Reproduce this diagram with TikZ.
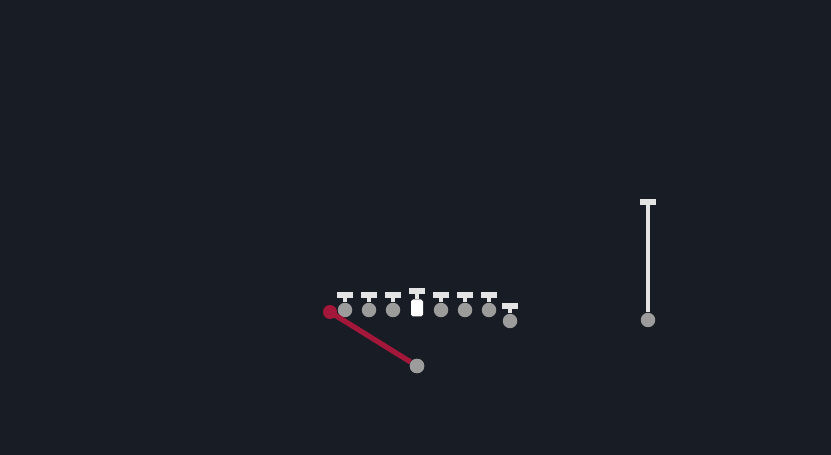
\documentclass[tikz,border=0pt]{standalone}
\definecolor{field}{HTML}{181C25}
\definecolor{mark}{HTML}{9C9C9C}
\definecolor{stemc}{HTML}{E4E4E4}
\definecolor{route}{HTML}{A3183A}
\tikzset{
  player/.style={circle,fill=mark,inner sep=0pt,minimum size=0.29cm},
  center/.style={rectangle,rounded corners=1pt,fill=white,inner sep=0pt,minimum width=0.24cm,minimum height=0.34cm},
  stem/.style={stemc,line width=2.8pt},
  tbar/.style={stemc,line width=3.2pt},
  routeline/.style={route,line width=3pt},
  routeend/.style={circle,fill=route,inner sep=0pt,minimum size=0.28cm}
}
\begin{document}
\begin{tikzpicture}[x=0.02cm,y=-0.02cm]
  \fill[field] (0,0) rectangle (831,455);

  % line of scrimmage
  \foreach \n/\x/\y in {la/345/310,lb/369/310,lc/393/310,ld/441/310,le/465/310,lf/489/310,lg/510/321}{
    \node[player] (\n) at (\x,\y) {};
    \coordinate (\n top) at (\x,\y-15);
    \draw[stem] (\n) -- (\n top);
    \draw[tbar] ([xshift=-8*0.02cm]\n top) -- ([xshift=8*0.02cm]\n top);
  }
  \node[center] (ctr) at (417,308) {};
  \coordinate (ctrtop) at (417,291);
  \draw[stem] (ctr) -- (ctrtop);
  \draw[tbar] ([xshift=-8*0.02cm]ctrtop) -- ([xshift=8*0.02cm]ctrtop);

  % wide receiver
  \node[player] (wr) at (648,320) {};
  \coordinate (wrtop) at (648,202);
  \draw[stem] (wr) -- (wrtop);
  \draw[tbar] ([xshift=-8*0.02cm]wrtop) -- ([xshift=8*0.02cm]wrtop);

  % back and route
  \node[routeend] (rend) at (330,312) {};
  \node[player] (qb) at (417,366) {};
  \draw[routeline] (qb) -- (rend.center);
  \node[player] at (qb) {};
\end{tikzpicture}
\end{document}
